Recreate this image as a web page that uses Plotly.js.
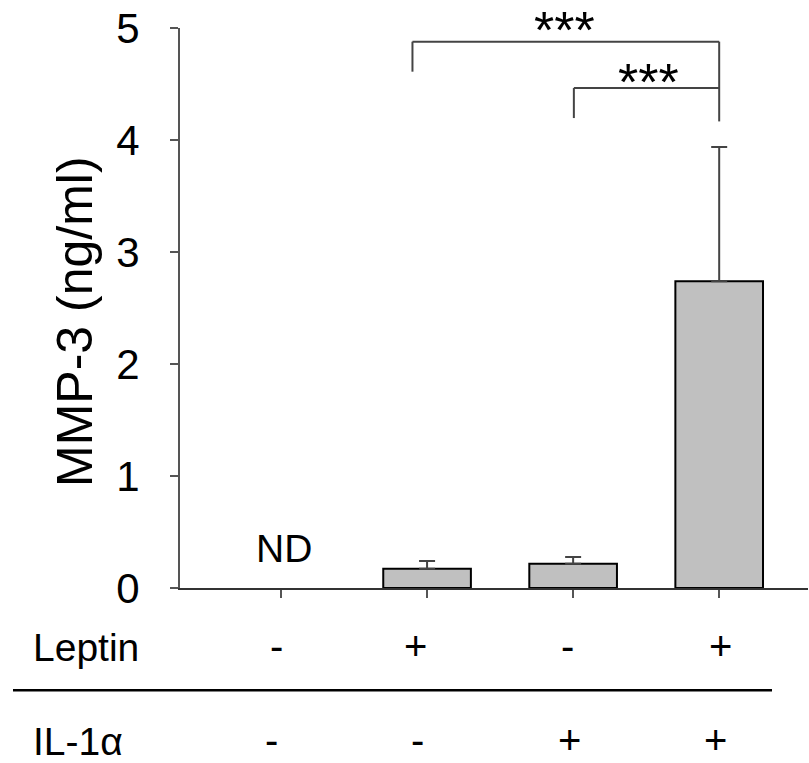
<!DOCTYPE html>
<html>
<head>
<meta charset="utf-8">
<script src="https://cdn.plot.ly/plotly-3.0.1.min.js"></script>
<style>html,body{margin:0;padding:0;background:#fff;}</style>
</head>
<body>
<div id="chart" style="width:809px;height:763px;"></div>
<script>
// ---- data ----
const categories = ['Control', 'Leptin', 'IL-1α', 'Leptin + IL-1α'];
const leptinRow = ['-', '+', '-', '+'];
const il1aRow = ['-', '-', '+', '+'];
const means = [null, 0.172, 0.217, 2.738];   // ng/ml, first group not detected
const sems = [null, 0.069, 0.060, 1.20];
const yTickVals = [0, 1, 2, 3, 4, 5];
const yTickText = ['0', '1', '2', '3', '4', '5'];
const ndText = 'ND';
const sigText = '***';
const yTitle = 'MMP-3 (ng/ml)';
const rowLabels = ['Leptin', 'IL-1α'];

// ---- layout helpers ----
const FONT = 'Liberation Sans, Arial, sans-serif';
const W = 809, H = 763;
const mL = 180, mR = 1, mT = 28, mB = 175;
const plotW = W - mL - mR, plotH = H - mT - mB;
const px2x = px => (px - mL) / plotW;          // paper x
const py2y = py => (H - mB - py) / plotH;      // paper y

const xIdx = categories.map((_, i) => i);

const trace = {
  type: 'bar',
  x: xIdx,
  y: means,
  width: 0.6,
  marker: { color: '#c0c0c0', line: { color: '#000', width: 2 } },
  error_y: {
    type: 'data', symmetric: false, array: sems,
    arrayminus: sems.map(v => v === null ? null : 0),
    color: '#444', thickness: 2, width: 8
  },
  cliponaxis: false,
  hoverinfo: 'skip'
};

const annotations = [];
// y title
annotations.push({
  xref: 'paper', yref: 'paper', x: px2x(75), y: py2y(322),
  text: yTitle, textangle: -90, showarrow: false,
  xanchor: 'center', yanchor: 'middle',
  font: { family: FONT, size: 50, color: '#000' }
});
// ND
annotations.push({
  xref: 'x', yref: 'y', x: 0.02, y: 0.35, text: ndText, showarrow: false,
  xanchor: 'center', yanchor: 'middle',
  font: { family: FONT, size: 39, color: '#000' }
});
// significance stars
annotations.push({
  xref: 'x', yref: 'y', x: 1.944, y: 4.98, text: sigText, showarrow: false,
  xanchor: 'center', yanchor: 'middle',
  font: { family: FONT, size: 52, color: '#000' }
});
annotations.push({
  xref: 'x', yref: 'y', x: 2.519, y: 4.52, text: sigText, showarrow: false,
  xanchor: 'center', yanchor: 'middle',
  font: { family: FONT, size: 52, color: '#000' }
});
// row labels
const rowY = [646, 740];
rowLabels.forEach((t, r) => {
  annotations.push({
    xref: 'paper', yref: 'paper', x: px2x(31), y: py2y(rowY[r] + 1),
    text: t, showarrow: false, xanchor: 'left', yanchor: 'middle',
    font: { family: FONT, size: 39, color: '#000' }
  });
});
// +/- signs
const shiftRows = [[-5, -12, -6, 1], [-10, -10, -4, -4]];
[leptinRow, il1aRow].forEach((row, r) => {
  row.forEach((s, i) => {
    annotations.push({
      xref: 'x', yref: 'paper', x: xIdx[i], xshift: shiftRows[r][i], y: py2y(rowY[r]),
      text: s, showarrow: false, xanchor: 'center', yanchor: 'middle',
      font: { family: FONT, size: 40, color: '#000' }
    });
  });
});

const lineStyle = { color: '#444', width: 2 };
const shapes = [
  // big bracket
  { type: 'line', xref: 'x', yref: 'y', x0: 0.9, x1: 0.9, y0: 4.61, y1: 4.878, line: lineStyle },
  { type: 'line', xref: 'x', yref: 'y', x0: 0.9, x1: 3, y0: 4.878, y1: 4.878, line: lineStyle },
  { type: 'line', xref: 'x', yref: 'y', x0: 3, x1: 3, y0: 4.166, y1: 4.878, line: lineStyle },
  // small bracket
  { type: 'line', xref: 'x', yref: 'y', x0: 2.005, x1: 2.005, y0: 4.196, y1: 4.464, line: lineStyle },
  { type: 'line', xref: 'x', yref: 'y', x0: 2.005, x1: 3, y0: 4.464, y1: 4.464, line: lineStyle },
  // separator between rows
  { type: 'line', xref: 'paper', yref: 'paper', x0: px2x(13), x1: px2x(772), y0: py2y(690.3), y1: py2y(690.3),
    line: { color: '#000', width: 2.5 } }
];

const layout = {
  width: W, height: H,
  margin: { l: mL, r: mR, t: mT, b: mB, pad: 0 },
  paper_bgcolor: '#fff', plot_bgcolor: '#fff',
  showlegend: false,
  xaxis: {
    type: 'linear', range: [-0.6915, 3.608], fixedrange: true,
    showgrid: false, zeroline: false,
    showline: true, linecolor: '#333', linewidth: 2,
    ticks: 'outside', ticklen: 8, tickwidth: 2, tickcolor: '#555',
    tickvals: xIdx, showticklabels: false
  },
  yaxis: {
    range: [0, 5], fixedrange: true,
    showgrid: false, zeroline: false,
    showline: true, linecolor: '#555', linewidth: 2,
    ticks: 'outside', ticklen: 8, tickwidth: 2, tickcolor: '#555',
    tickvals: yTickVals, ticktext: yTickText,
    ticklabelstandoff: 22,
    tickfont: { family: FONT, size: 42, color: '#000' }
  },
  annotations: annotations,
  shapes: shapes
};

Plotly.newPlot('chart', [trace], layout, { staticPlot: true, displayModeBar: false });
</script>
</body>
</html>
